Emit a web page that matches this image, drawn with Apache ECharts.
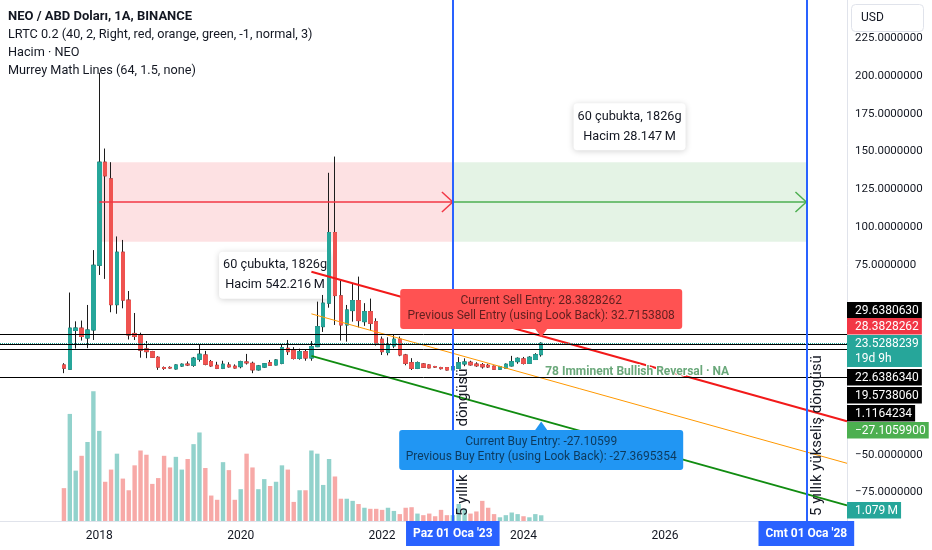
<!DOCTYPE html>
<html>
<head>
<meta charset="utf-8">
<script src="https://cdn.jsdelivr.net/npm/echarts@6.0.0/dist/echarts.min.js"></script>
<style>html,body{margin:0;padding:0;background:#fff;}#c{width:932px;height:550px;}</style>
</head>
<body>
<div id="c"></div>
<script>
// ---------------- data (monthly candles, Jul 2017 .. Apr 2024) ----------------
const firstMonth = -6; // months relative to Jan 2018
const opens = [9.2,6.4,32,33.5,27,32.3,75,143,132,49,
  83.6,52,30,29,19.8,18,14.3,7.5,7.6,6.6,
  8.5,9.8,9,13,15.8,11.5,9,7,9.2,8.4,
  8.1,11.2,10.3,6,7.8,10.7,9.2,10.3,20.2,19,
  13.6,18,13.8,21.3,34.5,50,96.6,54.8,35.6,45.1,
  51.7,37.8,44.4,37.8,26.2,17.4,21.8,26.2,15.8,10.7,
  7,9.9,9.2,8.2,7.5,7.5,5.9,7,9.9,11,
  9.8,9.4,9,8.4,6.4,7,8.6,11.4,13.2,10.3,
  12.8,16];
const highs = [10.4,57,38,38.5,48.8,85,202,152,143,94,
  91.7,58,43.5,30.5,25,18.5,15,8.2,8.3,9.6,
  10.2,11.5,14.5,22.9,18.5,12.5,11.3,12,11,9.6,
  12,16.5,11.4,9.2,10.5,12.5,13,22.5,25.7,21,
  20,19.5,25,51,55.4,136,146.7,65,48.8,63,
  67.5,50,53,40,28,27.5,29,28,16.5,13.7,
  11.5,10.5,9.6,8.6,8,7.8,8.5,14.4,13.6,12,
  11,10.5,10,8.8,8.6,10.2,15.2,14.2,14.5,15,
  17,24.2];
const lows = [3.8,6,20,25.3,20.3,25.7,68.6,66,44,43,
  46.6,26,25.7,14,13.7,13.8,6,6,6.8,6.2,
  8,8.5,8,11.4,9,8,6.5,6.5,7.5,6.8,
  7,9.5,3.8,5.5,7.3,8.6,9,9.7,15.8,12.8,
  12.7,12,12,21,31,47,35.6,25.3,24.6,37.8,
  34,35,32,22,15.8,15.6,20.3,15,9,5.9,
  6.5,7.3,7,7.2,6.2,5.6,5.5,6.8,8.4,8.8,
  8,6.8,7.2,6,6,6.6,8.2,10,9.5,9.9,
  12.5,14.7];
const closes = [7.1,33.5,33.6,28,32.3,75,143,134,49,83.6,
  52,29,28,19,18,14.3,7.8,6.9,7.2,9.2,
  9.7,9.2,13.7,16.3,9.7,8.6,7,9.7,8,7.2,
  11.4,10.6,6,8.6,10,9,12.5,20.7,18,13.5,
  18,13.8,21.3,34.5,50,96.6,55,35.6,45.5,51.7,
  38.5,44.4,36.7,23.5,18,22.4,26.2,15.8,10.3,7,
  10.7,7.7,7.3,7.8,6.8,5.9,8.1,10.7,11.2,9.3,
  8.7,8,7.9,6.4,8.1,9.7,11.4,13.6,10.2,14.3,
  16,23.5288239];
const volumes = [6.2,20.2,9.5,12.3,14.9,24.5,17.0,7.4,9.7,12.7,
  8.0,5.8,10.5,13.3,12.5,7.0,8.1,12.3,10.1,12.1,
  9.7,11.7,14.5,16.7,10.0,4.8,4.0,11.1,9.6,4.0,
  6.0,12.7,10.1,6.0,7.9,6.6,7.4,10.5,9.7,3.6,
  5.8,5.8,13.3,12.7,6.8,11.7,8.4,4.2,4.2,3.8,
  3.2,2.5,2.3,2.3,2.1,2.5,1.9,1.3,2.5,2.6,
  1.4,1.1,1.4,0.9,2.1,1.1,1.1,3.2,2.3,1.4,
  1.8,3.8,2.5,1.3,0.7,1.1,1.6,1.3,0.9,0.7,
  1.3,1.079];

const xTickValues = [0, 24, 48, 72, 96];
const xTickLabels = ['2018', '2020', '2022', '2024', '2026'];
const priceTicks = [-75, -50, 75, 100, 125, 150, 175, 200, 225];

const murreyLevels = [29.6380630, 22.6386340, 19.5738060, 1.1164234];
const lastPrice = 23.5288239;
const sellEntry = 28.3828262, prevSellEntry = 32.7153808;
const buyEntry = -27.10599, prevBuyEntry = -27.3695354;

const lrtcMonths = [36, 75];
const lrtcUpper = [70.7, 28.3828262];
const lrtcMid = [42.95, 0.6384];
const lrtcLower = [15.2, -27.10599];

const cycleMonths = [0, 60, 120];
const rangeTop = 142.9, rangeBottom = 90.5, rangeMid = 116.7;
const rangeInfo = [['60 çubukta, 1826g', 'Hacim 542.216\u2009M'], ['60 çubukta, 1826g', 'Hacim 28.147\u2009M']];
const cycleDateLabels = ["Paz 01 Oca '23", "Cmt 01 Oca '28"];
const cycleTexts = ['5 yıllık düşüş döngüsü', '5 yıllık yükseliş döngüsü'];
const legendLines = ['NEO / ABD Doları, 1A, BINANCE', 'LRTC 0.2 (40, 2, Right, red, orange, green, -1, normal, 3)', 'Hacim · NEO', 'Murrey Math Lines (64, 1.5, none)'];
const volumeTag = '1.079\u2009M';
const signalText = '78 Imminent Bullish Reversal · NA';
const signalLevel = 4.6;

// ---------------- chart ----------------
const X_MIN = -16.85, X_MAX = 126.9;
const UP = '#26a69a', DOWN = '#ef5350';
const months = opens.map((_, i) => firstMonth + i);
const wickData = months.map((m, i) => [m, opens[i], closes[i], lows[i], highs[i]]);
const bodyData = months.map((m, i) => [m, opens[i], closes[i], Math.min(opens[i], closes[i]), Math.max(opens[i], closes[i])]);
const volData = months.map((m, i) => ({ value: [m, volumes[i]], itemStyle: { color: closes[i] >= opens[i] ? 'rgba(38,166,154,0.5)' : 'rgba(239,83,80,0.5)' } }));
function extendLine(arr) {
  const s = (arr[1] - arr[0]) / (lrtcMonths[1] - lrtcMonths[0]);
  return [[lrtcMonths[0], arr[0]], [X_MAX, arr[1] + s * (X_MAX - lrtcMonths[1])]];
}
const chevDx = 1.85, chevDy = 6.6;
function chevron(m, color) {
  return [
    [{ coord: [m - chevDx, rangeMid + chevDy], lineStyle: { color, width: 1.5, type: 'solid' } }, { coord: [m, rangeMid] }],
    [{ coord: [m - chevDx, rangeMid - chevDy], lineStyle: { color, width: 1.5, type: 'solid' } }, { coord: [m, rangeMid] }]
  ];
}

const chart = echarts.init(document.getElementById('c'));
const option = {
  animation: false,
  textStyle: { fontFamily: 'Roboto' },
  grid: [
    { left: 0, right: 85, top: 0, bottom: 19.5 },
    { left: 0, right: 85, top: 380, bottom: 29 }
  ],
  xAxis: [
    { type: 'value', gridIndex: 0, min: X_MIN, max: X_MAX, show: false, axisLine: { onZero: false } },
    { type: 'value', gridIndex: 1, min: X_MIN, max: X_MAX,
      axisLine: { show: true, onZero: false, lineStyle: { color: '#e0e3eb' } },
      axisTick: { show: false }, splitLine: { show: false },
      axisLabel: { customValues: xTickValues, formatter: v => { const k = xTickValues.indexOf(v); return k >= 0 ? xTickLabels[k] : ''; }, color: '#131722', fontSize: 12, margin: 9 } }
  ],
  yAxis: [
    { type: 'value', gridIndex: 0, position: 'right', min: -100, max: 250,
      axisLine: { show: true, onZero: false, lineStyle: { color: '#e0e3eb' } },
      axisTick: { show: false }, splitLine: { show: false },
      axisLabel: { customValues: priceTicks, formatter: v => v.toFixed(7).replace('-', '\u2212'), color: '#131722', fontSize: 11.5, margin: 8 } },
    { type: 'value', gridIndex: 1, min: 0, max: 26.6, show: false, axisLine: { onZero: false } }
  ],
  series: [
    { type: 'bar', name: 'Hacim', xAxisIndex: 1, yAxisIndex: 1, data: volData, barWidth: 4.4, silent: true, z: 1 },
    { type: 'line', name: 'ranges', xAxisIndex: 0, yAxisIndex: 0, data: [], silent: true, z: 1,
      markArea: { silent: true, data: [
        [{ xAxis: cycleMonths[0], yAxis: rangeTop, itemStyle: { color: 'rgba(242,54,69,0.15)' } }, { xAxis: cycleMonths[1], yAxis: rangeBottom }],
        [{ xAxis: cycleMonths[1], yAxis: rangeTop, itemStyle: { color: 'rgba(76,175,80,0.15)' } }, { xAxis: cycleMonths[2], yAxis: rangeBottom }]
      ] } },
    { type: 'candlestick', name: 'wick', xAxisIndex: 0, yAxisIndex: 0, data: wickData, barWidth: 4, silent: true, z: 2,
      itemStyle: { color: '#1c1c1c', color0: '#1c1c1c', borderColor: '#1c1c1c', borderColor0: '#1c1c1c', borderWidth: 1 } },
    { type: 'candlestick', name: 'NEO', xAxisIndex: 0, yAxisIndex: 0, data: bodyData, barWidth: 4, silent: true, z: 3,
      itemStyle: { color: UP, color0: DOWN, borderColor: UP, borderColor0: DOWN, borderWidth: 1 } },
    { type: 'line', name: 'upper', data: extendLine(lrtcUpper), showSymbol: false, silent: true, z: 4, lineStyle: { color: '#f21a1a', width: 2 } },
    { type: 'line', name: 'mid', data: extendLine(lrtcMid), showSymbol: false, silent: true, z: 4, lineStyle: { color: '#ff9800', width: 1 } },
    { type: 'line', name: 'lower', data: extendLine(lrtcLower), showSymbol: false, silent: true, z: 4, lineStyle: { color: '#118c11', width: 2 },
      markLine: { silent: true, symbol: ['none', 'none'], label: { show: false },
        data: [
          ...murreyLevels.map(v => ({ yAxis: v, lineStyle: { color: '#000', width: 1, type: 'solid' } })),
          { yAxis: lastPrice, lineStyle: { color: UP, width: 1, type: 'dotted' } },
          [{ coord: [cycleMonths[0], rangeMid], lineStyle: { color: '#f23645', width: 1.5, type: 'solid' } }, { coord: [cycleMonths[1], rangeMid] }],
          [{ coord: [cycleMonths[1], rangeMid], lineStyle: { color: '#4caf50', width: 1.5, type: 'solid' } }, { coord: [cycleMonths[2], rangeMid] }],
          ...chevron(cycleMonths[1], '#f23645'),
          ...chevron(cycleMonths[2], '#4caf50'),
          { xAxis: cycleMonths[1], lineStyle: { color: '#2962ff', width: 2, type: 'solid' } },
          { xAxis: cycleMonths[2], lineStyle: { color: '#2962ff', width: 2, type: 'solid' } }
        ] } }
  ]
};
chart.setOption(option);

// ---------------- overlays positioned through the chart's scales ----------------
const mctx = document.createElement('canvas').getContext('2d');
function tw(t, f) { mctx.font = f; return mctx.measureText(t).width; }
function T(x, y, text, o) {
  o = o || {};
  const al = o.align || 'left', va = o.va || 'middle';
  return { type: 'text', x, y, z: o.z || 60, rotation: o.rot || 0, silent: true,
    style: { text, fill: o.color || '#131722', font: o.font || '12.7px Roboto', textAlign: al, textVerticalAlign: va, align: al, verticalAlign: va,
      stroke: o.stroke, lineWidth: o.lw || 0 } };
}
function R(x, y, w, h, style, z, r) {
  return { type: 'rect', z: z || 60, silent: true, shape: { x, y, width: w, height: h, r: r || 0 }, style };
}
function P(m, v) { return chart.convertToPixel({ gridIndex: 0 }, [m, v]); }

const g = [];
// legend
const legendY = [17, 35, 53, 71];
legendLines.forEach((t, i) => g.push(T(8, legendY[i], t, { font: (i === 0 ? 'bold 13px' : '12.7px') + ' Roboto' })));
// USD button
g.push(R(851.5, 4.5, 72, 27, { fill: '#fff', stroke: '#e0e3eb', lineWidth: 1 }, 60, 4));
g.push(T(861, 18, 'USD', { font: '12px Roboto' }));

// date range info boxes
const xA = P(cycleMonths[0], 0)[0], xB = P(cycleMonths[1], 0)[0], xC = P(cycleMonths[2], 0)[0];
const yTop = P(0, rangeTop)[1], yBot = P(0, rangeBottom)[1];
const boxW = 112, boxH = 47;
[[(xA + xB) / 2 - 1, yBot + 10], [(xB + xC) / 2, yTop - 12 - boxH]].forEach((b, i) => {
  g.push(R(b[0] - boxW / 2, b[1], boxW, boxH, { fill: '#fff', shadowBlur: 6, shadowColor: 'rgba(0,0,0,0.18)', shadowOffsetY: 1 }, 1, 4));
  g.push(T(b[0], b[1] + 13.5, rangeInfo[i][0], { align: 'center', z: 1 }));
  g.push(T(b[0], b[1] + 33.5, rangeInfo[i][1], { align: 'center', z: 1 }));
});

// rotated cycle texts next to the blue lines
[cycleMonths[1], cycleMonths[2]].forEach((m, i) => {
  g.push(T(P(m, 0)[0] + 10.5, 516, cycleTexts[i], { rot: Math.PI / 2, font: '15px Roboto', z: 20 }));
});

// signal text
const sp = P(months[months.length - 1], signalLevel);
g.push(T(sp[0] + 4, sp[1], signalText, { font: 'bold 12px Roboto', color: '#6aa87a', stroke: '#ffffff', lw: 2, z: 20 }));

// LRTC entry callouts
const curM = lrtcMonths[1];
const sa = P(curM, sellEntry), ba = P(curM, buyEntry);
const cw = 282, ch = 40;
const calloutFont = '12px Roboto', calloutText = 'rgba(0,0,0,0.62)';
let cTop = sa[1] - 7 - ch;
g.push(R(sa[0] - cw / 2, cTop, cw, ch, { fill: '#ff5252' }, 40, 3));
g.push({ type: 'polygon', z: 40, silent: true, shape: { points: [[sa[0] - 6, cTop + ch], [sa[0] + 6, cTop + ch], [sa[0], sa[1] + 1]] }, style: { fill: '#ff5252' } });
g.push(T(sa[0], cTop + 12, 'Current Sell Entry: ' + sellEntry.toFixed(7), { align: 'center', font: calloutFont, color: calloutText, z: 41 }));
g.push(T(sa[0], cTop + 27, 'Previous Sell Entry (using Look Back): ' + prevSellEntry.toFixed(7), { align: 'center', font: calloutFont, color: calloutText, z: 41 }));
cTop = ba[1] + 10;
g.push(R(ba[0] - cw / 2 - 1, cTop, cw + 2, ch, { fill: '#2196f3' }, 40, 3));
g.push({ type: 'polygon', z: 40, silent: true, shape: { points: [[ba[0] - 6, cTop], [ba[0] + 6, cTop], [ba[0], ba[1] + 1.5]] }, style: { fill: '#2196f3' } });
g.push(T(ba[0], cTop + 11.5, 'Current Buy Entry: ' + buyEntry.toFixed(5), { align: 'center', font: calloutFont, color: calloutText, z: 41 }));
g.push(T(ba[0], cTop + 26.5, 'Previous Buy Entry (using Look Back): ' + prevBuyEntry.toFixed(7), { align: 'center', font: calloutFont, color: calloutText, z: 41 }));

// date labels under blue lines
[xB, xC].forEach((x, i) => {
  const w = tw(cycleDateLabels[i], 'bold 12px Roboto') + 14;
  g.push(R(x - w / 2, 521, w, 25, { fill: '#2962ff' }, 60, 0));
  g.push(T(x, 533.5, cycleDateLabels[i], { align: 'center', font: 'bold 12px Roboto', color: '#fff', z: 61 }));
});

// price scale tags (stacked layout)
const tagFont = '12px Roboto';
const tags = [
  { t: murreyLevels[0].toFixed(7), bg: '#000000', y: 302 },
  { t: sellEntry.toFixed(7), bg: '#f23645', y: 318 },
  { t: lastPrice.toFixed(7), sub: '19d 9h', bg: UP, y: 335 },
  { t: murreyLevels[1].toFixed(7), bg: '#000000', y: 369 },
  { t: murreyLevels[2].toFixed(7), bg: '#000000', y: 387 },
  { t: murreyLevels[3].toFixed(7), bg: '#000000', y: 405 },
  { t: buyEntry.toFixed(7).replace('-', '\u2212'), bg: '#4caf50', y: 422 },
  { t: volumeTag, bg: UP, y: 502 }
];
tags.forEach(tg => {
  const h = tg.sub ? 32 : 16.5;
  const w = tw(tg.t, tagFont) + 11;
  g.push(R(847, tg.y, w, h, { fill: tg.bg }, 70, 0));
  g.push(T(855, tg.y + 8.5, tg.t, { font: tagFont, color: '#fff', z: 71 }));
  if (tg.sub) g.push(T(855, tg.y + 23.5, tg.sub, { font: tagFont, color: '#fff', z: 71 }));
});

chart.setOption({ graphic: g });
</script>
</body>
</html>
